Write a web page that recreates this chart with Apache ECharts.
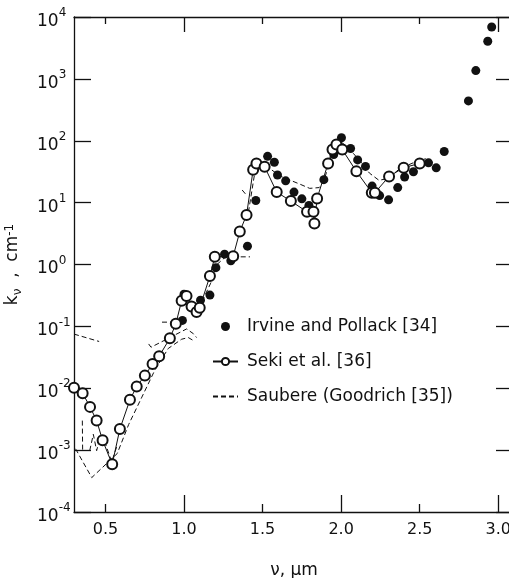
<!DOCTYPE html>
<html>
<head>
<meta charset="utf-8">
<script src="https://cdn.jsdelivr.net/npm/echarts@6/dist/echarts.min.js"></script>
<style>
html, body { margin: 0; padding: 0; background: #fff; }
#chart { width: 509px; height: 578px; }
</style>
</head>
<body>
<div id="chart"></div>
<script>
// Absorption coefficient of water vs. wavenumber (micrometre^-1)
const FONT = 'DejaVu Sans';
const INK = '#111';

const xMin = 0.3;
const xMax = 3.1;
const xLabelValues = [0.5, 1.0, 1.5, 2.0, 2.5, 3.0];
const xLongTicks = [1.0, 2.0, 3.0];
const xShortTicks = [0.5, 1.5, 2.5];
const yMin = 1e-4;
const yMax = 1e4;

// Irvine and Pollack [34]
const irvineX = [0.990, 1.000, 1.105, 1.165, 1.203, 1.258, 1.298, 1.404, 1.457, 1.532, 1.575, 1.595,
  1.647, 1.700, 1.750, 1.795, 1.890, 1.953, 2.002, 2.060, 2.105, 2.155, 2.197, 2.245, 2.302, 2.360,
  2.404, 2.460, 2.556, 2.605, 2.656, 2.810, 2.857, 2.933, 2.958];
const irvineK = [0.125, 0.33, 0.265, 0.32, 0.89, 1.47, 1.15, 1.98, 10.8, 56, 45, 28,
  22.5, 14.8, 11.5, 9.0, 23.5, 60, 112, 75, 49, 38.5, 18.5, 13, 11.1, 17.5,
  26, 31.5, 44, 36.5, 67, 440, 1360, 4050, 6890];

// Seki et al. [36]
const sekiX = [0.300, 0.355, 0.402, 0.444, 0.482, 0.543, 0.592, 0.656, 0.699, 0.751, 0.800, 0.842,
  0.910, 0.948, 0.985, 1.016, 1.048, 1.080, 1.100, 1.165, 1.196, 1.313, 1.355, 1.398, 1.440, 1.461,
  1.513, 1.590, 1.680, 1.783, 1.824, 1.830, 1.847, 1.917, 1.945, 1.970, 2.007, 2.097, 2.195, 2.215,
  2.305, 2.398, 2.500];
const sekiK = [0.0102, 0.0083, 0.0050, 0.0030, 0.00144, 0.00059, 0.0022, 0.0065, 0.0107, 0.016, 0.0246, 0.033,
  0.064, 0.11, 0.26, 0.31, 0.21, 0.17, 0.20, 0.65, 1.33, 1.36, 3.4, 6.3, 34, 43,
  38, 14.8, 10.6, 7.1, 7.1, 4.6, 11.7, 43, 72, 87, 72, 32, 14.5, 14.5,
  26.5, 36.7, 43];

// Saubere (Goodrich [35]) – separate traced pieces
const saubereTopLeft = [[0.30, 0.075], [0.46, 0.057]];
const saubereStub = [[0.353, 0.0030], [0.355, 0.0010]];
const saubereLower = [[0.31, 0.00105], [0.413, 0.00036], [0.575, 0.00088], [0.648, 0.0026], [0.732, 0.0072],
  [0.816, 0.020], [0.900, 0.044], [0.985, 0.062], [1.027, 0.066], [1.070, 0.057]];
const saubereZigzag = [[0.400, 0.00098], [0.423, 0.0018], [0.444, 0.00098], [0.468, 0.0017], [0.486, 0.0016],
  [0.540, 0.00065], [0.575, 0.0012]];
const saubereUpper = [[0.775, 0.052], [0.790, 0.046], [0.920, 0.068], [1.017, 0.091], [1.060, 0.076], [1.080, 0.066]];
const saubereBar = [[0.860, 0.117], [0.940, 0.117]];
const saubereMid = [[1.000, 0.30], [1.060, 0.23], [1.100, 0.21], [1.170, 0.50], [1.210, 1.00], [1.260, 1.30]];
const saubereShelf = [[1.310, 1.33], [1.420, 1.33]];
const saubereHook = [[1.370, 16], [1.400, 13]];
const saubereUpperBand = [[1.410, 7], [1.450, 30], [1.480, 42], [1.520, 40], [1.609, 27], [1.735, 20], [1.800, 17],
  [1.860, 17.5], [1.890, 22], [1.930, 50], [1.970, 85], [2.000, 95], [2.040, 80], [2.127, 45], [2.180, 30],
  [2.240, 23], [2.300, 24.5], [2.370, 35], [2.500, 49], [2.540, 51]];

const saubereName = 'Saubere (Goodrich [35])';
const saubereParts = [saubereTopLeft, saubereStub, saubereLower, saubereZigzag, saubereUpper,
  saubereBar, saubereMid, saubereShelf, saubereHook, saubereUpperBand];

const pairs = (xs, ks) => xs.map((x, i) => [x, ks[i]]);

const chart = echarts.init(document.getElementById('chart'), null, { renderer: 'canvas' });

const gridRect = { left: 74, top: 17, width: 440, height: 495, outerBoundsMode: 'none', containLabel: false };
const lineAx = { show: true, lineStyle: { color: INK, width: 1.3 } };

const baseX = (extra) => Object.assign({
  type: 'value', min: xMin, max: xMax, splitLine: { show: false },
  axisLine: lineAx, axisLabel: { show: false }
}, extra);

const option = {
  backgroundColor: '#fff',
  animation: false,
  textStyle: { fontFamily: FONT, color: INK },
  grid: [Object.assign({}, gridRect), Object.assign({}, gridRect)],
  xAxis: [
    baseX({
      gridIndex: 0, position: 'bottom',
      axisTick: { inside: true, length: 17, customValues: xLongTicks, lineStyle: { color: INK, width: 1.3 } },
      axisLabel: {
        show: true, customValues: xLabelValues, margin: 10,
        fontFamily: FONT, fontSize: 16, color: INK,
        formatter: v => Number(v).toFixed(1)
      },
      name: '{a|ν, μm}', nameLocation: 'middle', nameGap: 50,
      nameTextStyle: { rich: { a: { fontFamily: FONT, fontSize: 17, color: INK } } }
    }),
    baseX({
      gridIndex: 0, position: 'top',
      axisTick: { inside: true, length: 15, customValues: xLongTicks, lineStyle: { color: INK, width: 1.3 } }
    }),
    baseX({
      gridIndex: 1, position: 'bottom', axisLine: { show: false },
      axisTick: { inside: true, length: 8, customValues: xShortTicks, lineStyle: { color: INK, width: 1.3 } }
    }),
    baseX({
      gridIndex: 1, position: 'top', axisLine: { show: false },
      axisTick: { inside: true, length: 7, customValues: xShortTicks, lineStyle: { color: INK, width: 1.3 } }
    })
  ],
  yAxis: [
    {
      gridIndex: 0, type: 'log', logBase: 10, min: yMin, max: yMax, interval: 1, position: 'left',
      splitLine: { show: false }, axisLine: lineAx,
      axisTick: { inside: true, length: 17, lineStyle: { color: INK, width: 1.3 } },
      axisLabel: {
        margin: 37, align: 'left',
        formatter: v => {
          const e = Math.round(Math.log10(v));
          return '{b|10}{e|' + (e < 0 ? '-' : '') + Math.abs(e) + '}';
        },
        rich: {
          b: { fontFamily: FONT, fontSize: 17, color: INK, verticalAlign: 'bottom', padding: [9, 0, 0, 0] },
          e: { fontFamily: FONT, fontSize: 12, color: INK, verticalAlign: 'top', padding: [3, 0, 0, 0] }
        }
      },
      name: '{k|k}{s|ν}{r|  ,  cm}{p|-1}', nameLocation: 'middle', nameGap: 50, nameRotate: 90,
      nameTextStyle: {
        rich: {
          k: { fontFamily: FONT, fontSize: 17, color: INK, verticalAlign: 'top', padding: [0, 0, 0, 0] },
          s: { fontFamily: FONT, fontSize: 12, color: INK, verticalAlign: 'bottom', padding: [8, 0, 0, 0] },
          r: { fontFamily: FONT, fontSize: 17, color: INK, verticalAlign: 'top' },
          p: { fontFamily: FONT, fontSize: 12, color: INK, verticalAlign: 'top', padding: [0, 0, 8, 0] }
        }
      }
    },
    {
      gridIndex: 0, type: 'log', logBase: 10, min: yMin, max: yMax, interval: 1, position: 'right',
      splitLine: { show: false }, axisLine: lineAx,
      axisTick: { inside: true, length: 18, lineStyle: { color: INK, width: 1.3 } },
      axisLabel: { show: false }
    },
    {
      gridIndex: 1, type: 'log', logBase: 10, min: yMin, max: yMax, show: false
    }
  ],
  legend: {
    orient: 'vertical', left: 212, top: 318, padding: 0,
    itemWidth: 25, itemHeight: 9, itemGap: 18,
    textStyle: { fontFamily: FONT, fontSize: 17, color: INK, padding: [0, 0, 0, 4] },
    data: [
      { name: 'Irvine and Pollack [34]', icon: 'circle' },
      { name: 'Seki et al. [36]' },
      { name: saubereName, itemStyle: { opacity: 0 } }
    ]
  },
  series: [].concat(
    [
      {
        name: 'Irvine and Pollack [34]', type: 'scatter', xAxisIndex: 0, yAxisIndex: 0,
        data: pairs(irvineX, irvineK), symbol: 'circle', symbolSize: 9,
        itemStyle: { color: INK, opacity: 1 }, z: 3
      },
      {
        name: 'Seki et al. [36]', type: 'line', xAxisIndex: 0, yAxisIndex: 0,
        data: pairs(sekiX, sekiK), symbol: 'emptyCircle', symbolSize: 10, showAllSymbol: true,
        lineStyle: { color: INK, width: 1, type: 'solid' },
        itemStyle: { color: INK, borderColor: INK, borderWidth: 1.2 }, z: 4
      }
    ],
    saubereParts.map(part => ({
      name: saubereName, type: 'line', xAxisIndex: 0, yAxisIndex: 0,
      data: part, symbol: 'none', silent: true, z: 2,
      lineStyle: { color: INK, width: 1, type: [5, 3] },
      itemStyle: { color: INK }
    }))
  )
};

chart.setOption(option);
</script>
</body>
</html>
